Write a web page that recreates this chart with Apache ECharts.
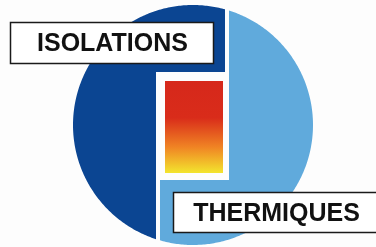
<!DOCTYPE html>
<html>
<head>
<meta charset="utf-8">
<script src="https://cdn.jsdelivr.net/npm/echarts@6/dist/echarts.min.js"></script>
<style>html,body{margin:0;padding:0;background:#fff}#c{width:376px;height:247px}</style>
</head>
<body>
<div id="c"></div>
<script>
// Labels (text content of the logo)
const labels = ['ISOLATIONS', 'THERMIQUES'];
// Colours of the two halves and the heat gradient
const halfColors = ['#0b4592', '#60aadc'];
const heatColors = ['#d6281b', '#d92c1a', '#f08424', '#f3e52e'];
const heatStops = [0, 0.4, 0.72, 1];

// geometry
const cx = 193, cy = 125, R = 120;
function arc(a0, a1, n) {
  const pts = [];
  for (let i = 0; i <= n; i++) {
    const a = (a0 + (a1 - a0) * i / n) * Math.PI / 180;
    pts.push([cx + R * Math.cos(a), cy - R * Math.sin(a)]);
  }
  return pts;
}
function ang(x, upper) {
  const dy = Math.sqrt(R * R - (x - cx) * (x - cx));
  return Math.atan2(upper ? dy : -dy, x - cx) * 180 / Math.PI;
}
// dark half: top edge x=225, step y=72, lower edge x=156
const dA0 = ang(225, true), dA1 = 360 + ang(156, false);
const darkPts = arc(dA0, dA1, 240).concat([[156, 72], [225, 72]]);
// light half: top edge x=229, step y=180, lower edge x=160
const lA0 = ang(229, true), lA1 = ang(160, false);
const lightPts = arc(lA0, lA1, 240).concat([[160, 180], [229, 180]]);

const chart = echarts.init(document.getElementById('c'), null, {renderer: 'canvas'});
chart.setOption({
  backgroundColor: '#fdfdfd',
  animation: false,
  graphic: [
    {type: 'polygon', shape: {points: darkPts}, style: {fill: halfColors[0]}},
    {type: 'polygon', shape: {points: lightPts}, style: {fill: halfColors[1]}},
    {type: 'rect', shape: {x: 165, y: 81, width: 58, height: 92},
      style: {fill: new echarts.graphic.LinearGradient(0, 0, 0, 1,
        heatStops.map((o, i) => ({offset: o, color: heatColors[i]})))}},
    {type: 'rect', shape: {x: 10.5, y: 22.5, width: 203, height: 41},
      style: {fill: '#ffffff', stroke: '#1a1a1a', lineWidth: 1.5}},
    {type: 'text', x: 112.5, y: 44, style: {text: labels[0], fill: '#111',
      font: 'bold 25px "Liberation Sans", Arial, sans-serif', align: 'center', verticalAlign: 'middle'}},
    {type: 'rect', shape: {x: 173.5, y: 192.5, width: 210, height: 40},
      style: {fill: '#ffffff', stroke: '#1a1a1a', lineWidth: 1.5}},
    {type: 'text', x: 276.5, y: 214.5, style: {text: labels[1], fill: '#111',
      font: 'bold 25px "Liberation Sans", Arial, sans-serif', align: 'center', verticalAlign: 'middle'}}
  ]
});
</script>
</body>
</html>
